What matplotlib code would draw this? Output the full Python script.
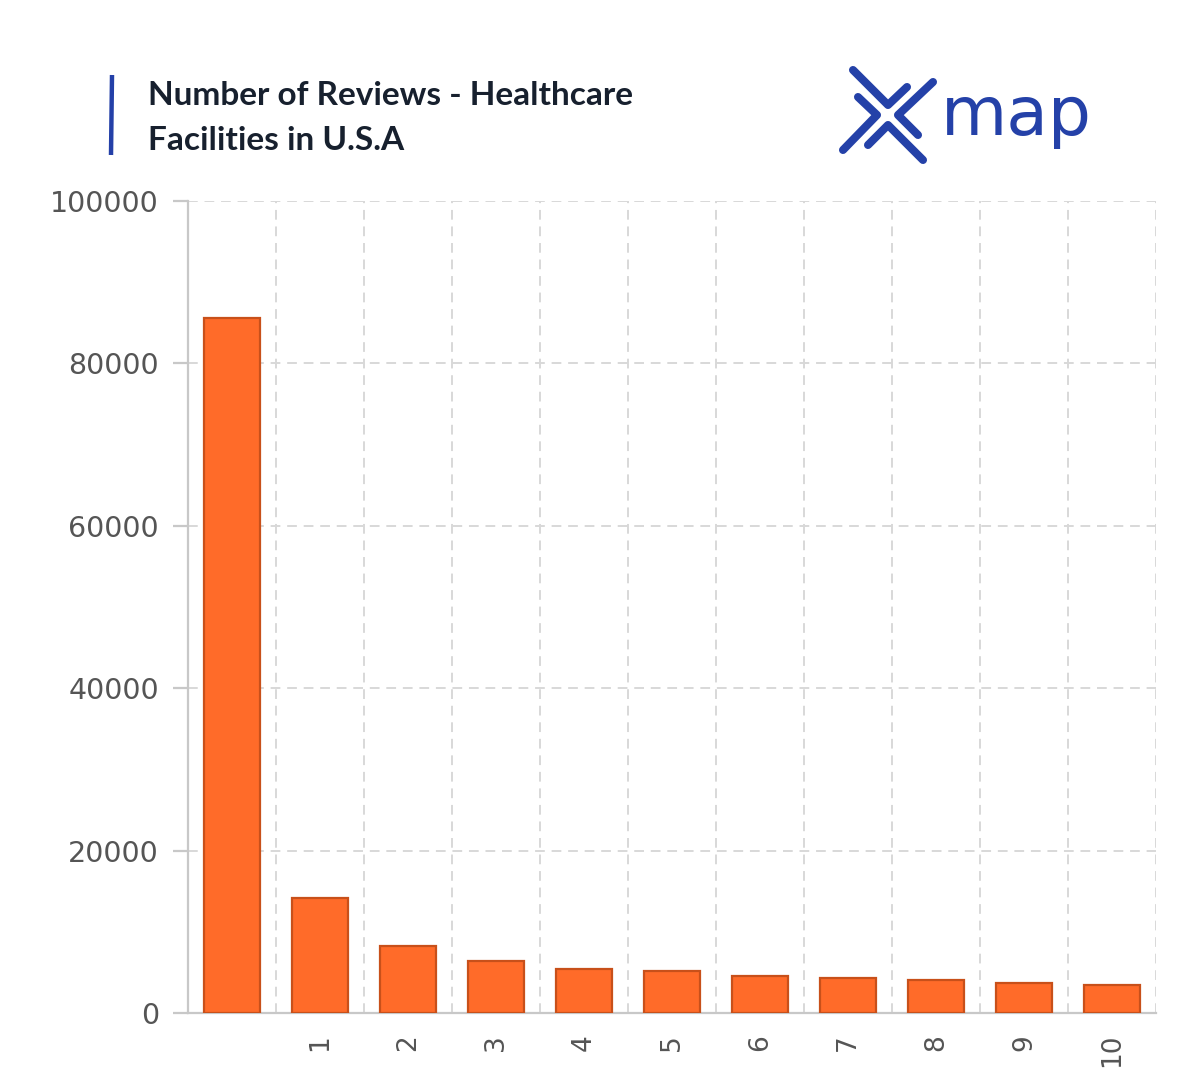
import matplotlib
matplotlib.use("Agg")
import matplotlib.pyplot as plt
from matplotlib.lines import Line2D

# ---- data ----
categories = ["", "1", "2", "3", "4", "5", "6", "7", "8", "9", "10"]
reviews = [85600, 14150, 8250, 6450, 5400, 5200, 4550, 4300, 4100, 3650, 3500]
y_ticks = [0, 20000, 40000, 60000, 80000, 100000]
title_lines = ["Number of Reviews - Healthcare", "Facilities in U.S.A"]
logo_text = "map"

W, H = 1200, 1080
fig = plt.figure(figsize=(W / 100, H / 100), dpi=100)
fig.patch.set_facecolor("white")

def fx(px):
    return px / W

def fy(py):
    return 1 - py / H

tick_font = ["DejaVu Sans"]

ax = fig.add_axes([fx(188), fy(1013), fx(1156) - fx(188), fy(201) - fy(1013)])
x = list(range(len(categories)))
ax.bar(x, reviews, width=0.63, color="#FF6B29", edgecolor="#C8501A", linewidth=1.6, zorder=3)

ax.set_xlim(-0.5, len(categories) - 0.5)
ax.set_ylim(0, 100000)
ax.set_yticks(y_ticks)
ax.set_yticklabels([str(v) for v in y_ticks], family=tick_font)
ax.set_xticks(x)
ax.set_xticklabels(categories, rotation=90, va="top", ha="center", family=tick_font)
ax.set_xticks([i + 0.5 for i in x], minor=True)

grid_color = "#d8d8d8"
ax.grid(axis="y", which="major", linestyle=(0, (5, 3.5)), color=grid_color, linewidth=1.4, zorder=0)
ax.grid(axis="x", which="minor", linestyle=(0, (5, 3.5)), color=grid_color, linewidth=1.4, zorder=0)
ax.grid(axis="x", which="major", visible=False)

for s in ["top", "right"]:
    ax.spines[s].set_visible(False)
for s in ["left", "bottom"]:
    ax.spines[s].set_color("#c8c8c8")
    ax.spines[s].set_linewidth(1.6)

ax.tick_params(axis="y", which="major", length=11, width=1.6, color="#c8c8c8",
               labelsize=20.5, labelcolor="#555555", pad=10)
ax.tick_params(axis="x", which="major", length=0, labelsize=19, labelcolor="#555555", pad=15)
ax.tick_params(axis="x", which="minor", length=0)

# ---- title ----
for line, base in zip(title_lines, [105, 150]):
    fig.text(fx(148), fy(base), line, fontsize=24, fontweight="bold",
             family=["Lato", "DejaVu Sans"], color="#17202e", va="baseline", ha="left")
fig.add_artist(Line2D([fx(112), fx(111)], [fy(75), fy(155)], color="#2440A8",
                      linewidth=3.2, solid_capstyle="butt"))

# ---- logo ----
logo_blue = "#2441A8"
strokes = [
    [(853, 70), (888, 105), (907, 87)],
    [(858, 97), (877, 115), (843, 150)],
    [(933, 82), (898, 115), (918, 135)],
    [(868, 145), (888, 125), (923, 160)],
]
for st in strokes:
    xs = [fx(p[0]) for p in st]
    ys = [fy(p[1]) for p in st]
    fig.add_artist(Line2D(xs, ys, color=logo_blue, linewidth=5.8,
                          solid_capstyle="round", solid_joinstyle="round"))
fig.text(fx(941), fy(135), logo_text, fontsize=49, family=["DejaVu Sans"],
         color=logo_blue, ha="left", va="baseline")

fig.savefig("out.png", dpi=100, facecolor="white")
